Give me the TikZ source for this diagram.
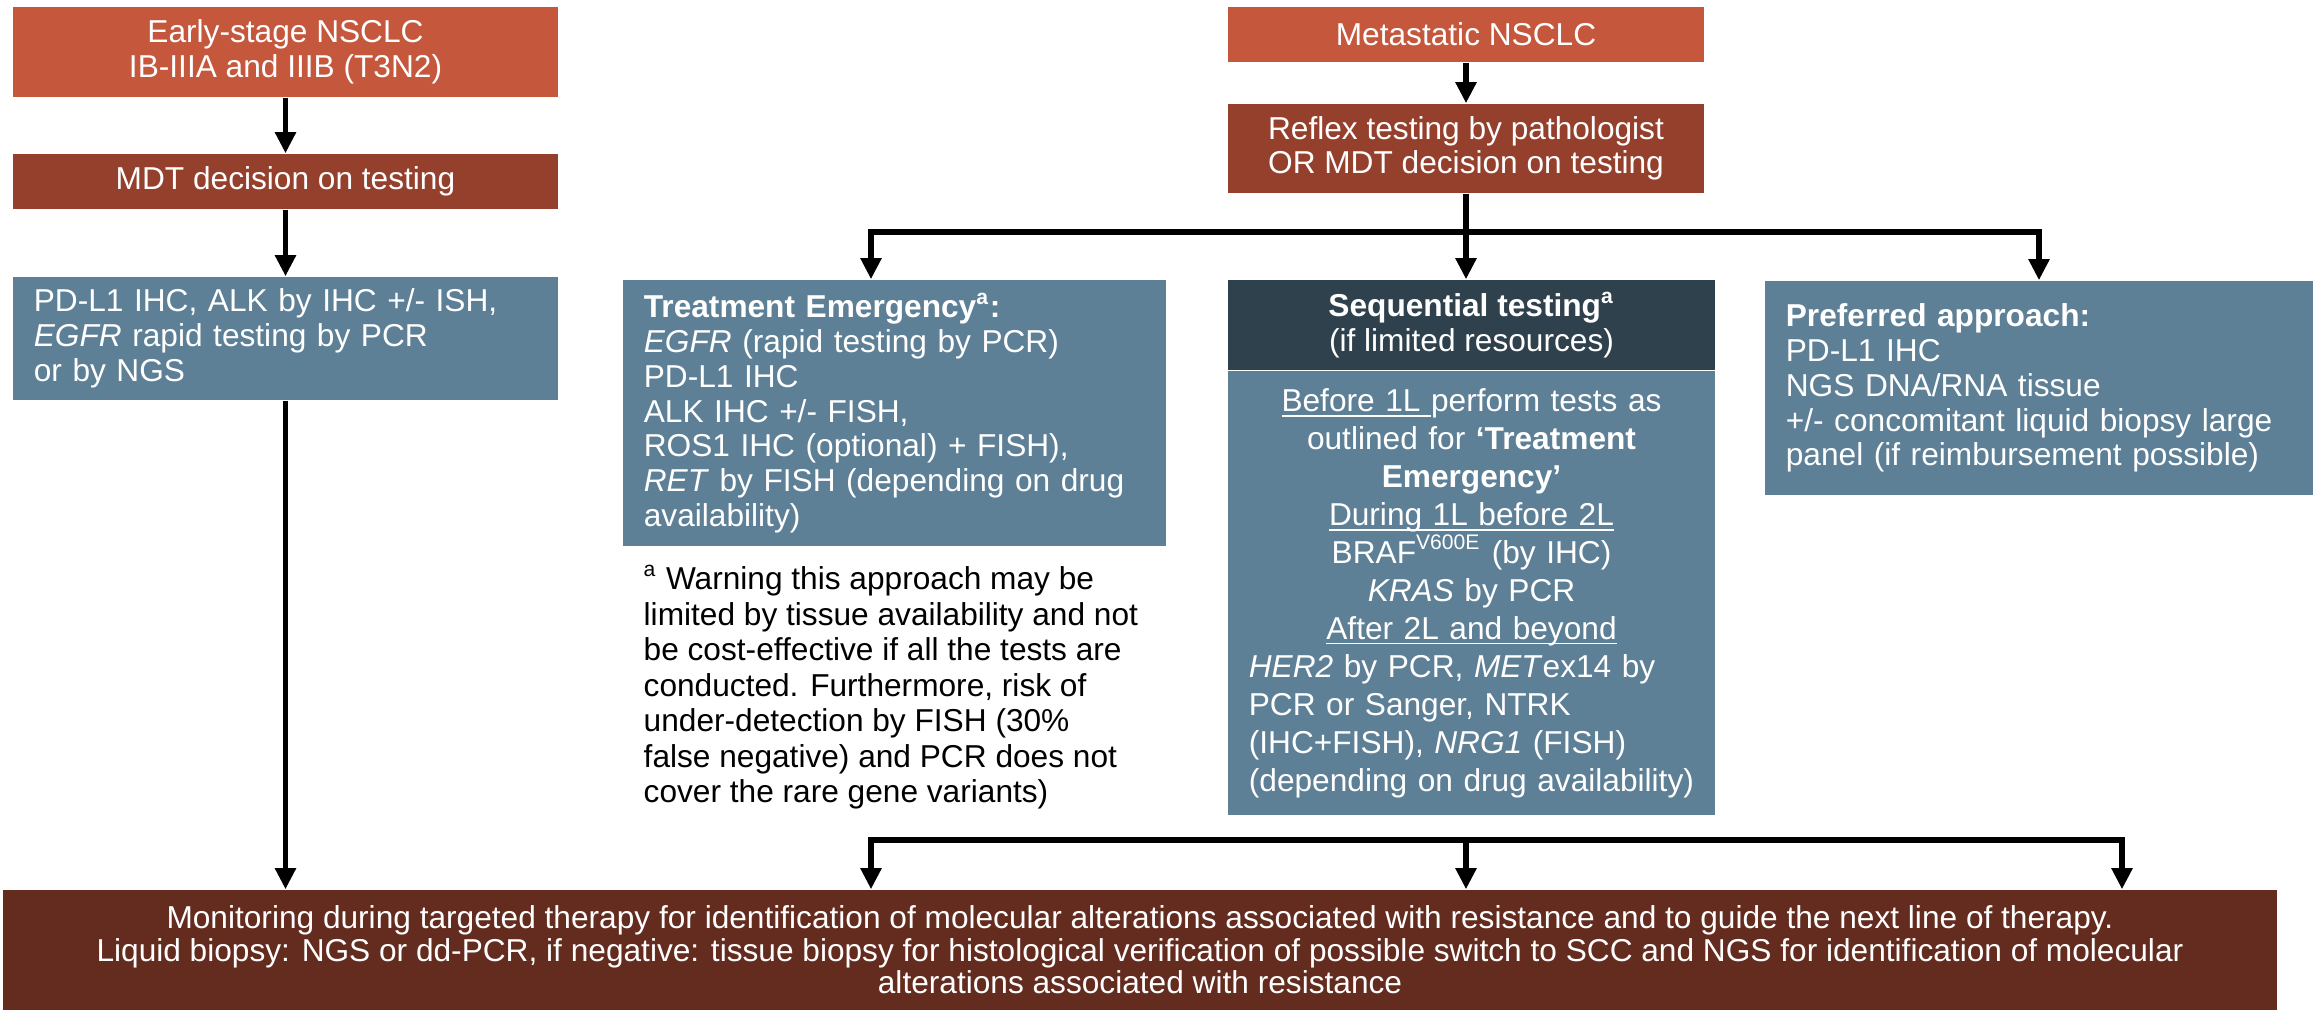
\documentclass[tikz,border=0pt]{standalone}
\usepackage{fontspec}
\setmainfont{Liberation Sans}
\usetikzlibrary{arrows.meta}

\definecolor{stageorange}{RGB}{197,87,60}
\definecolor{decisionrust}{RGB}{149,64,44}
\definecolor{steelblue}{RGB}{94,128,150}
\definecolor{slateblue}{RGB}{47,65,77}
\definecolor{monitorbrown}{RGB}{100,43,31}

\newsavebox{\undbox}
\newcommand{\lineunder}[1]{\leavevmode\sbox{\undbox}{#1}\rlap{\rule[-1.5pt]{\wd\undbox}{0.55pt}}\usebox{\undbox}}

\begin{document}
\begin{tikzpicture}[x=0.01cm, y=-0.01cm, >={Triangle[width=5.7pt,length=6pt]}]

% styles
\tikzset{
  stagebox/.style={fill=stageorange, text=white, align=center, inner sep=0pt,
    font=\fontsize{9}{9.8}\selectfont},
  decisionbox/.style={stagebox, fill=decisionrust},
  testbox/.style={fill=steelblue, text=white, align=left, inner xsep=0.21cm,
    inner ysep=0pt, font=\fontsize{9}{9.9}\selectfont},
  note/.style={align=left, inner sep=0pt, font=\fontsize{9}{10.1}\selectfont},
  flow/.style={->, line width=1.7pt},
}

\useasboundingbox (0,0) rectangle (2315,1009);

% early-stage disease
\node[stagebox, minimum width=5.45cm, minimum height=0.90cm] (early) at (285.5,52)
  {Early-stage NSCLC\\IB-IIIA and IIIB (T3N2)};
\node[decisionbox, minimum width=5.45cm, minimum height=0.55cm] (mdt) at (285.5,181.5)
  {MDT decision on testing};
\node[testbox, text width=5.03cm, minimum height=1.23cm] (earlytests) at (285.5,338.5)
  {PD-L1 IHC, ALK by IHC +/- ISH,\\\textit{EGFR} rapid testing by PCR\\or by NGS};

% metastatic disease
\node[stagebox, minimum width=4.76cm, minimum height=0.55cm] (meta) at (1466,34.5)
  {Metastatic NSCLC};
\node[decisionbox, minimum width=4.76cm, minimum height=0.89cm] (reflex) at (1466,148.5)
  {Reflex testing by pathologist\\OR MDT decision on testing};

% treatment emergency
\node[testbox, text width=5.01cm, minimum height=2.66cm] (emerg) at (894.5,413)
  {\textbf{Treatment Emergency\textsuperscript{a}:}\\
   \textit{EGFR} (rapid testing by PCR)\\
   PD-L1 IHC\\
   ALK IHC +/- FISH,\\
   ROS1 IHC (optional) + FISH),\\
   \textit{RET} by FISH (depending on drug\\
   availability)};
\node[note, anchor=north west] (warning) at (643,564)
  {\textsuperscript{a} Warning this approach may be\\
   limited by tissue availability and not\\
   be cost-effective if all the tests are\\
   conducted. Furthermore, risk of\\
   under-detection by FISH (30\%\\
   false negative) and PCR does not\\
   cover the rare gene variants)};

% sequential testing
\node[stagebox, fill=slateblue, minimum width=4.87cm, minimum height=0.90cm] (seqhead) at (1471.5,325)
  {\textbf{Sequential testing\textsuperscript{a}}\\(if limited resources)};
\node[testbox, align=center, text width=4.45cm, minimum height=4.43cm, anchor=north,
  font=\fontsize{9}{10.8}\selectfont] (seqbody) at (seqhead.south)
  {\lineunder{Before 1L\ }perform tests as\\
   outlined for \textbf{‘Treatment}\\
   \textbf{Emergency’}\\
   \lineunder{During 1L before 2L}\\
   BRAF\textsuperscript{V600E} (by IHC)\\
   \textit{KRAS} by PCR\\
   \lineunder{After 2L and beyond}\\
   \makebox[\linewidth][l]{\textit{HER2} by PCR, \textit{MET}ex14 by}\\
   \makebox[\linewidth][l]{PCR or Sanger, NTRK}\\
   \makebox[\linewidth][l]{(IHC+FISH), \textit{NRG1} (FISH)}\\
   \makebox[\linewidth][l]{(depending on drug availability)}};

% preferred approach
\node[testbox, text width=5.06cm, minimum height=2.14cm] (pref) at (2039,388)
  {\textbf{Preferred approach:}\\
   PD-L1 IHC\\
   NGS DNA/RNA tissue\\
   +/- concomitant liquid biopsy large\\
   panel (if reimbursement possible)};

% monitoring
\node[stagebox, fill=monitorbrown, minimum width=22.72cm, minimum height=1.20cm,
  font=\fontsize{9}{9.25}\selectfont] (monitor) at (1140,950)
  {Monitoring during targeted therapy for identification of molecular alterations associated with resistance and to guide the next line of therapy.\\
   Liquid biopsy: NGS or dd-PCR, if negative: tissue biopsy for histological verification of possible switch to SCC and NGS for identification of molecular\\
   alterations associated with resistance};

% connectors
\draw[flow] (early) -- (mdt);
\draw[flow] (mdt) -- (earlytests);
\draw[flow] (earlytests) -- (earlytests.south |- monitor.north);
\draw[flow] (meta) -- (reflex);
\draw[flow] (reflex.south) -- (reflex.south |- seqhead.north);

\coordinate (split) at (871,232);
\draw[flow, <->] (split |- emerg.north) -- (split) -- (split -| pref.north) -- (pref.north);

\coordinate (gather) at (871,840);
\coordinate (gatherend) at (2122,840);
\draw[flow, <->] (gather |- monitor.north) -- (gather) -- (gatherend) -- (gatherend |- monitor.north);
\draw[flow] (gather -| reflex.south) -- (reflex.south |- monitor.north);

\end{tikzpicture}
\end{document}
